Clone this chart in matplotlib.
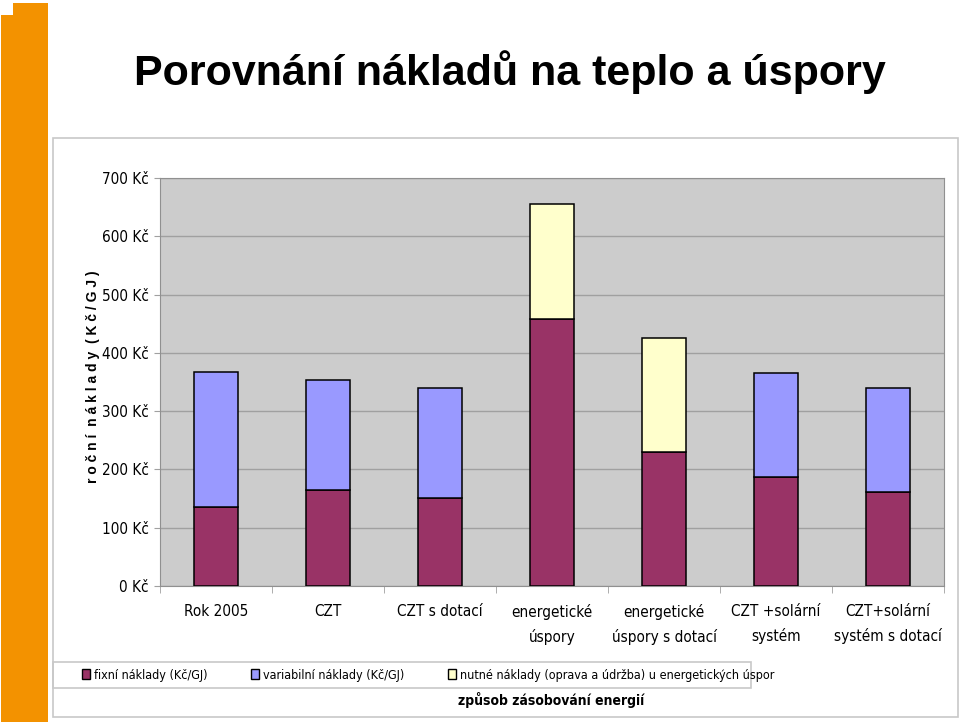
import matplotlib
matplotlib.use('Agg')
import matplotlib.pyplot as plt
from matplotlib.patches import Rectangle, Patch
import numpy as np

# data (Kč/GJ)
categories = ['Rok 2005', 'CZT', 'CZT s dotací', 'energetické\núspory',
              'energetické\núspory s dotací', 'CZT +solární\nsystém',
              'CZT+solární\nsystém s dotací']
fixni = [136, 164, 151, 458, 230, 187, 162]
variabilni = [232, 189, 189, 0, 0, 179, 178]
nutne = [0, 0, 0, 198, 196, 0, 0]
series_names = ['fixní náklady (Kč/GJ)', 'variabilní náklady (Kč/GJ)',
                'nutné náklady (oprava a údržba) u energetických úspor']
colors = ['#993366', '#9999FF', '#FFFFCC']
yticks = [0, 100, 200, 300, 400, 500, 600, 700]

# narrow look of the original (Arial Narrow) -> DejaVu Sans Condensed
plt.rcParams['font.family'] = ['DejaVu Sans']
plt.rcParams['font.stretch'] = 'condensed'

W, H = 960, 726
fig = plt.figure(figsize=(W / 100, H / 100), dpi=100)

def fx(px):
    return px / W

def fy(py):
    return 1 - py / H

# orange stripe on the left
fig.patches.append(Rectangle((fx(1), fy(722)), fx(48) - fx(1), fy(3) - fy(722),
                             transform=fig.transFigure, facecolor='#F39200',
                             edgecolor='none', zorder=0))
fig.patches.append(Rectangle((fx(0), fy(15)), fx(13), fy(3) - fy(15),
                             transform=fig.transFigure, facecolor='white',
                             edgecolor='none', zorder=1))

# chart frame and legend box
fig.patches.append(Rectangle((fx(53), fy(717)), fx(958) - fx(53), fy(138) - fy(717),
                             transform=fig.transFigure, facecolor='none',
                             edgecolor='#C8C8C8', lw=1.2, zorder=1))
fig.patches.append(Rectangle((fx(53), fy(688)), fx(751) - fx(53), fy(662) - fy(688),
                             transform=fig.transFigure, facecolor='none',
                             edgecolor='#C8C8C8', lw=1.2, zorder=1))

fig.text(fx(510), fy(72), 'Porovnání nákladů na teplo a úspory', ha='center',
         va='center', fontsize=31, fontweight='bold', family='Liberation Sans',
         stretch='normal')

ax = fig.add_axes([fx(160), fy(586), fx(944) - fx(160), fy(178) - fy(586)])
ax.set_facecolor('#CCCCCC')

x = np.arange(len(categories))
w = 0.40
bottom = np.zeros(len(categories))
for vals, name, c in zip([fixni, variabilni, nutne], series_names, colors):
    vals = np.array(vals, dtype=float)
    mask = vals > 0
    ax.bar(x[mask], vals[mask], w, bottom=bottom[mask], color=c,
           edgecolor='black', linewidth=1.1, zorder=3)
    bottom += vals

ax.set_xlim(-0.5, len(categories) - 0.5)
ax.set_ylim(0, 700)
ax.set_yticks(yticks)
ax.set_yticklabels(['%d Kč' % v for v in yticks], fontsize=11)
ax.yaxis.grid(True, color='#A0A0A0', linewidth=1, zorder=0)
ax.set_axisbelow(True)

ax.set_xticks(x)
ax.set_xticklabels(categories, fontsize=11, linespacing=1.65)
ax.set_xticks(np.arange(len(categories) + 1) - 0.5, minor=True)
ax.tick_params(axis='x', which='major', length=0, pad=13)
ax.tick_params(axis='x', which='minor', length=5, color='#A0A0A0')
ax.tick_params(axis='y', length=4, color='#A0A0A0', pad=4)
for s in ax.spines.values():
    s.set_color('#909090')

fig.text(fx(93), fy(377), 'r o č n í  n á k l a d y  ( K č / G J )',
         rotation=90, ha='center', va='center', fontsize=10, fontweight='bold',
         family='Liberation Sans', stretch='normal')
fig.text(fx(551), fy(700), 'způsob zásobování energií',
         ha='center', va='center', fontsize=10, fontweight='bold')

handles = [Patch(facecolor=c, edgecolor='black', linewidth=1) for c in colors]
fig.legend(handles, series_names, loc='center left',
           bbox_to_anchor=(fx(82), fy(675)), ncol=3, frameon=False,
           fontsize=9, handlelength=0.6, handleheight=0.8, handletextpad=0.35,
           columnspacing=3.5, borderpad=0, borderaxespad=0)

fig.savefig('out.png', dpi=100)
